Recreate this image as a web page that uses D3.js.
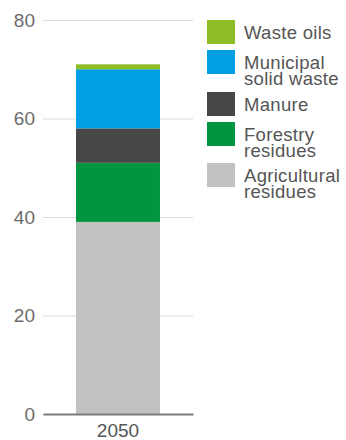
<!DOCTYPE html>
<html>
<head>
<meta charset="utf-8">
<script src="https://cdn.jsdelivr.net/npm/d3@7"></script>
<style>
  html, body { margin: 0; padding: 0; background: #fff; }
  svg { display: block; font-family: "Liberation Sans", Arial, sans-serif; }
</style>
</head>
<body>
<svg id="chart" width="346" height="440"></svg>
<script>
// Feedstock potential for 2050, stacked from the bottom up
const years = ["2050"];
const seriesNames = ["Agricultural residues", "Forestry residues", "Manure", "Municipal solid waste", "Waste oils"];
const seriesValues = [39, 12, 7, 12, 1];
const seriesColors = ["#c2c2c2", "#00963f", "#474747", "#009fe3", "#8dbd25"];
const legendLines = [
  ["Waste oils"],
  ["Municipal", "solid waste"],
  ["Manure"],
  ["Forestry", "residues"],
  ["Agricultural", "residues"]
];
const legendKeys = ["Waste oils", "Municipal solid waste", "Manure", "Forestry residues", "Agricultural residues"];
const yTicks = [0, 20, 40, 60, 80];

const svg = d3.select("#chart");
const plot = { left: 43, right: 193, top: 20, bottom: 414 };

const y = d3.scaleLinear().domain([0, 80]).range([plot.bottom, plot.top]);
const x = d3.scaleBand().domain(years).range([plot.left, plot.right]).paddingInner(0).paddingOuter(0.393);

// gridlines and tick labels
const yAxis = d3.axisLeft(y).tickValues(yTicks).tickSize(-(plot.right - plot.left)).tickPadding(8);
const gy = svg.append("g").attr("transform", `translate(${plot.left},0)`).call(yAxis);
gy.select(".domain").remove();
gy.selectAll(".tick line").attr("stroke", "#d9d9d9").attr("stroke-width", 1.2);
gy.selectAll(".tick text").attr("fill", "#6b6b6b").attr("font-size", 19)
  .attr("font-family", "Liberation Sans, Arial, sans-serif").attr("x", -8);

// stacked bar
const stackRow = { year: years[0] };
seriesNames.forEach((n, i) => stackRow[n] = seriesValues[i]);
const stacked = d3.stack().keys(seriesNames)([stackRow]);
const color = d3.scaleOrdinal().domain(seriesNames).range(seriesColors);

svg.append("g").selectAll("rect")
  .data(stacked)
  .join("rect")
  .attr("x", x(years[0]))
  .attr("width", x.bandwidth())
  .attr("y", d => y(d[0][1]))
  .attr("height", d => y(d[0][0]) - y(d[0][1]))
  .attr("fill", d => color(d.key));

// baseline axis
const xAxis = d3.axisBottom(x).tickSize(0).tickPadding(10);
const gx = svg.append("g").attr("transform", `translate(0,${plot.bottom})`).call(xAxis);
gx.select(".domain").attr("stroke", "#7a7a7a").attr("stroke-width", 2);
gx.selectAll(".tick text").attr("fill", "#555").attr("font-size", 19)
  .attr("font-family", "Liberation Sans, Arial, sans-serif");

// legend
const legendTops = [20, 50, 92, 122, 163];
const lg = svg.append("g");
legendKeys.forEach((k, i) => {
  const g = lg.append("g").attr("transform", `translate(207,${legendTops[i]})`);
  g.append("rect").attr("width", 28).attr("height", 24).attr("fill", color(k));
  const t = g.append("text").attr("x", 37).attr("y", 18.5).attr("fill", "#555")
    .attr("font-size", 18.5).attr("letter-spacing", 0.3);
  legendLines[i].forEach((line, j) => {
    t.append("tspan").attr("x", 37).attr("dy", j === 0 ? 0 : 16.5).text(line);
  });
});
</script>
</body>
</html>
